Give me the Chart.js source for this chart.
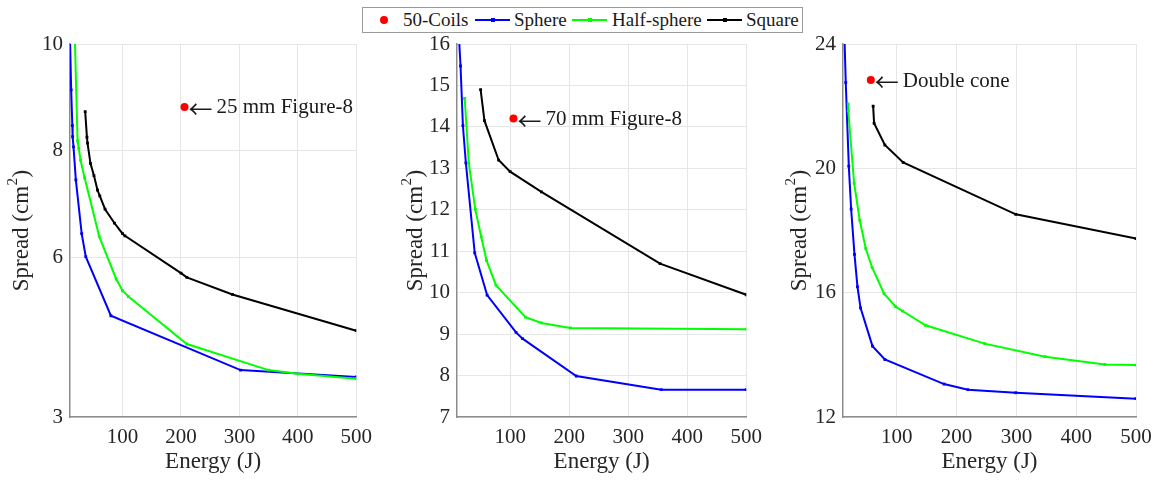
<!DOCTYPE html>
<html>
<head>
<meta charset="utf-8">
<script src="https://cdn.jsdelivr.net/npm/chart.js@4/dist/chart.umd.min.js"></script>
<style>
body { margin: 0; background: #fff; }
#wrap { position: relative; width: 1164px; height: 483px; font-family: "Liberation Serif", serif; }
#wrap canvas { position: absolute; top: 0; }
#legend { position: absolute; left: 362px; top: 7px; width: 441px; height: 26px; border: 1px solid #9a9a9a;
  background: #fff; z-index: 2; box-sizing: border-box; font-size: 19px; color: #1a1a1a; }
#legend span { position: absolute; top: 0; line-height: 24px; white-space: nowrap; }
#legend .ln { top: 11px; height: 2px; width: 35px; }
#legend .mk { top: 10px; width: 4px; height: 4px; }
#legend .dot { top: 8px; width: 8px; height: 8px; border-radius: 50%; background: #f00; }
</style>
</head>
<body>
<div id="wrap">
  <canvas id="c1" width="380" height="483" style="left:0px"></canvas>
  <canvas id="c2" width="390" height="483" style="left:380px"></canvas>
  <canvas id="c3" width="394" height="483" style="left:770px"></canvas>
  <div id="legend">
    <span class="dot" style="left:17px"></span>
    <span style="left:40px">50-Coils</span>
    <span class="ln" style="left:112px;background:#0000ff"></span>
    <span class="mk" style="left:128px;background:#0000ff"></span>
    <span style="left:151px">Sphere</span>
    <span class="ln" style="left:209px;background:#00ff00"></span>
    <span class="mk" style="left:225px;background:#00ff00"></span>
    <span style="left:249px">Half-sphere</span>
    <span class="ln" style="left:344px;background:#000"></span>
    <span class="mk" style="left:360px;background:#000"></span>
    <span style="left:383px">Square</span>
  </div>
</div>
<script>
/* ---------- dados ---------- */
const xTicks = [100, 200, 300, 400, 500];

// painel 1 - 25 mm Figure-8
const y1Ticks = [3, 6, 8, 10];
const sphere1E = [10, 12, 14, 14.5, 16, 20, 30, 37, 80, 302, 500];
const sphere1S = [10.1, 9.14, 8.47, 8.26, 8.07, 7.45, 6.44, 6.01, 4.90, 3.88, 3.75];
const half1E = [17, 23, 25, 28, 35, 60, 89, 100, 110, 210, 350, 400, 500];
const half1S = [10.6, 8.18, 8.04, 7.82, 7.49, 6.39, 5.59, 5.37, 5.26, 4.37, 3.88, 3.81, 3.72];
const square1E = [36, 39, 40, 45, 51, 57, 61, 70, 86, 100, 104, 200, 210, 288, 500];
const square1S = [8.73, 8.25, 8.14, 7.76, 7.53, 7.26, 7.15, 6.90, 6.64, 6.44, 6.40, 5.70, 5.62, 5.30, 4.62];
const coil1E = [206];
const coil1S = [8.82];

// painel 2 - 70 mm Figure-8
const y2Ticks = [7, 8, 9, 10, 11, 12, 13, 14, 15, 16];
const sphere2E = [12, 16, 20, 25, 40, 61, 110, 121, 212, 356, 500];
const sphere2S = [16.5, 15.47, 14.03, 13.13, 10.96, 9.94, 9.04, 8.89, 7.99, 7.66, 7.66];
const half2E = [23, 30, 41, 51, 60, 76, 126, 153, 202, 500];
const half2S = [14.69, 13.12, 12.01, 11.35, 10.78, 10.18, 9.41, 9.27, 9.15, 9.12];
const square2E = [50, 56.5, 80.5, 100, 153, 354, 500];
const square2S = [14.90, 14.15, 13.20, 12.92, 12.43, 10.70, 9.95];
const coil2E = [105.6];
const coil2S = [14.20];

// painel 3 - Double cone
const y3Ticks = [12, 16, 20, 24];
const sphere3E = [12, 14.6, 19.7, 23.6, 29.2, 34.2, 39.3, 59.3, 80, 179, 219, 299, 500];
const sphere3S = [24.5, 22.76, 20.07, 18.69, 17.23, 16.19, 15.51, 14.28, 13.85, 13.06, 12.88, 12.78, 12.59];
const half3E = [18.6, 18.8, 28.6, 38, 48, 58.7, 78.7, 98, 109.5, 148, 247, 348, 448, 500];
const half3S = [22.07, 21.85, 19.52, 18.33, 17.42, 16.81, 15.97, 15.55, 15.41, 14.95, 14.36, 13.94, 13.69, 13.67];
const square3E = [60.4, 62, 80, 110.6, 299, 500];
const square3S = [22.0, 21.45, 20.75, 20.19, 18.52, 17.74];
const coil3E = [56.5];
const coil3S = [22.84];

/* ---------- helpers ---------- */
const FONT = '"Liberation Serif", "Times New Roman", serif';
const INK = '#262626';
const pts = (xs, ys) => xs.map((x, i) => ({ x: x, y: ys[i] }));

function lineSet(label, xs, ys, color) {
    return {
        label: label, data: pts(xs, ys), showLine: true,
        borderColor: color, backgroundColor: color, borderWidth: 2,
        pointStyle: 'rect', pointRadius: 2, pointBorderWidth: 0
    };
}

function coilSet(xs, ys) {
    return {
        label: '50-Coils', data: pts(xs, ys), showLine: false,
        backgroundColor: '#ff0000', borderWidth: 0, pointRadius: 4, pointStyle: 'circle'
    };
}

// seta + texto ao lado do ponto vermelho, e título do eixo y com expoente
function textPlugin(note, titleX) {
    return {
        id: 'extraText',
        afterDraw(chart) {
            const c = chart.ctx;
            const p = chart.getDatasetMeta(0).data[0];
            c.save();
            c.fillStyle = '#1a1a1a';
            c.textBaseline = 'middle';
            c.font = '24px "Noto Sans CJK JP", "DejaVu Sans", sans-serif';
            c.fillText('\u2190', p.x + 4, p.y + 2);
            c.font = '21px ' + FONT;
            c.fillText(note, p.x + 32, p.y + 1);
            c.restore();

            // "Spread (cm²)" rodado
            const area = chart.chartArea;
            const a = 'Spread (cm', sup = '2', b = ')';
            c.save();
            c.fillStyle = INK;
            c.textBaseline = 'middle';
            c.translate(titleX, (area.top + area.bottom) / 2);
            c.rotate(-Math.PI / 2);
            c.font = '23px ' + FONT;
            const wa = c.measureText(a).width, wb = c.measureText(b).width;
            c.font = '15px ' + FONT;
            const ws = c.measureText(sup).width;
            let x = -(wa + ws + wb + 1) / 2;
            c.font = '23px ' + FONT;
            c.fillText(a, x, 0);
            x += wa;
            c.font = '15px ' + FONT;
            c.fillText(sup, x + 0.5, -9);
            x += ws + 1;
            c.font = '23px ' + FONT;
            c.fillText(b, x, 0);
            c.restore();
        }
    };
}

function panel(id, p) {
    new Chart(document.getElementById(id), {
        type: 'scatter',
        data: {
            datasets: [
                coilSet(p.coilE, p.coilS),
                lineSet('Square', p.squareE, p.squareS, '#000000'),
                lineSet('Half-sphere', p.halfE, p.halfS, '#00ff00'),
                lineSet('Sphere', p.sphereE, p.sphereS, '#0000ff')
            ]
        },
        options: {
            responsive: false,
            animation: false,
            layout: { padding: { top: 44, right: p.rightPad, left: 0, bottom: 0 } },
            plugins: { legend: { display: false }, tooltip: { enabled: false } },
            scales: {
                x: {
                    type: 'linear', min: 10, max: 500,
                    afterBuildTicks: s => { s.ticks = xTicks.map(v => ({ value: v })); },
                    afterFit: s => { s.height = 66; },
                    grid: { color: '#e6e6e6', drawTicks: false },
                    border: { color: '#8c8c8c', width: 1.5 },
                    ticks: { font: { family: FONT, size: 21 }, color: INK, padding: 8, maxRotation: 0 },
                    title: { display: true, text: 'Energy (J)', font: { family: FONT, size: 23 }, color: INK,
                        padding: { top: 0, bottom: 7 } }
                },
                y: {
                    type: 'linear', min: p.yTicks[0], max: p.yTicks[p.yTicks.length - 1],
                    afterBuildTicks: s => { s.ticks = p.yTicks.map(v => ({ value: v })); },
                    afterFit: s => { s.width = p.yWidth; },
                    grid: { color: '#e6e6e6', drawTicks: false },
                    border: { color: '#8c8c8c', width: 1.5 },
                    ticks: { font: { family: FONT, size: 21 }, color: INK, padding: 7 }
                }
            }
        },
        plugins: [textPlugin(p.note, p.titleX)]
    });
}

/* ---------- painéis ---------- */
panel('c1', {
    yTicks: y1Ticks, yWidth: 70, rightPad: 17, titleX: 22, note: '25 mm Figure-8',
    sphereE: sphere1E, sphereS: sphere1S, halfE: half1E, halfS: half1S,
    squareE: square1E, squareS: square1S, coilE: coil1E, coilS: coil1S
});

panel('c2', {
    yTicks: y2Ticks, yWidth: 77, rightPad: 21, titleX: 36, note: '70 mm Figure-8',
    sphereE: sphere2E, sphereS: sphere2S, halfE: half2E, halfS: half2S,
    squareE: square2E, squareS: square2S, coilE: coil2E, coilS: coil2S
});

panel('c3', {
    yTicks: y3Ticks, yWidth: 73, rightPad: 28, titleX: 30, note: 'Double cone',
    sphereE: sphere3E, sphereS: sphere3S, halfE: half3E, halfS: half3S,
    squareE: square3E, squareS: square3S, coilE: coil3E, coilS: coil3S
});
</script>
</body>
</html>
